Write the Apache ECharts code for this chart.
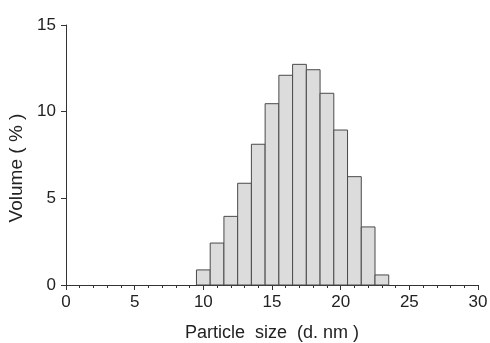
<!DOCTYPE html>
<html>
<head>
<meta charset="utf-8">
<script src="https://cdn.jsdelivr.net/npm/echarts@6/dist/echarts.min.js"></script>
<style>html,body{margin:0;padding:0;background:#fff;}#c{width:490px;height:343px;}</style>
</head>
<body>
<div id="c"></div>
<script>
var binCenters = [10, 11, 12, 13, 14, 15, 16, 17, 18, 19, 20, 21, 22, 23];
var volumes = [0.87, 2.42, 3.96, 5.87, 8.12, 10.46, 12.1, 12.73, 12.42, 11.06, 8.94, 6.25, 3.35, 0.58];
var binWidth = 1;
var xTicks = [0, 5, 10, 15, 20, 25, 30];
var yTicks = [0, 5, 10, 15];

var chart = echarts.init(document.getElementById('c'));
var data = binCenters.map(function (c, i) { return [c, volumes[i]]; });
var font = 'Liberation Sans, Arial, sans-serif';
chart.setOption({
  animation: false,
  backgroundColor: '#fff',
  grid: { left: 66, right: 12, top: 25, bottom: 58, containLabel: false, outerBoundsMode: 'none' },
  xAxis: {
    type: 'value', min: xTicks[0], max: xTicks[xTicks.length - 1], interval: 5,
    name: 'Particle  size  (d. nm )', nameLocation: 'middle', nameGap: 39,
    nameTextStyle: { fontFamily: font, fontSize: 18, color: '#222' },
    axisLine: { show: true, lineStyle: { color: '#333', width: 1 } },
    axisTick: { show: true, length: 5, lineStyle: { color: '#333' } },
    minorTick: { show: true, splitNumber: 5, length: 3, lineStyle: { color: '#333' } },
    axisLabel: { fontFamily: font, fontSize: 17, color: '#222', margin: 9 },
    splitLine: { show: false }
  },
  yAxis: {
    type: 'value', min: yTicks[0], max: yTicks[yTicks.length - 1], interval: 5,
    name: 'Volume ( % )', nameLocation: 'middle', nameGap: 39,
    nameTextStyle: { fontFamily: font, fontSize: 19, color: '#222', padding: [0, 26, 0, 0] },
    axisLine: { show: true, lineStyle: { color: '#333', width: 1 } },
    axisTick: { show: true, length: 5, lineStyle: { color: '#333' } },
    axisLabel: { fontFamily: font, fontSize: 17, color: '#222', margin: 10 },
    splitLine: { show: false }
  },
  series: [{
    type: 'custom',
    data: data,
    renderItem: function (params, api) {
      var x = api.value(0), y = api.value(1);
      var p0 = api.coord([x - binWidth / 2, 0]);
      var p1 = api.coord([x + binWidth / 2, y]);
      return {
        type: 'rect',
        shape: { x: p0[0], y: p1[1], width: p1[0] - p0[0], height: p0[1] - p1[1] },
        style: { fill: '#dcdcdc', stroke: '#4a4a4a', lineWidth: 1 }
      };
    }
  }]
});
</script>
</body>
</html>
